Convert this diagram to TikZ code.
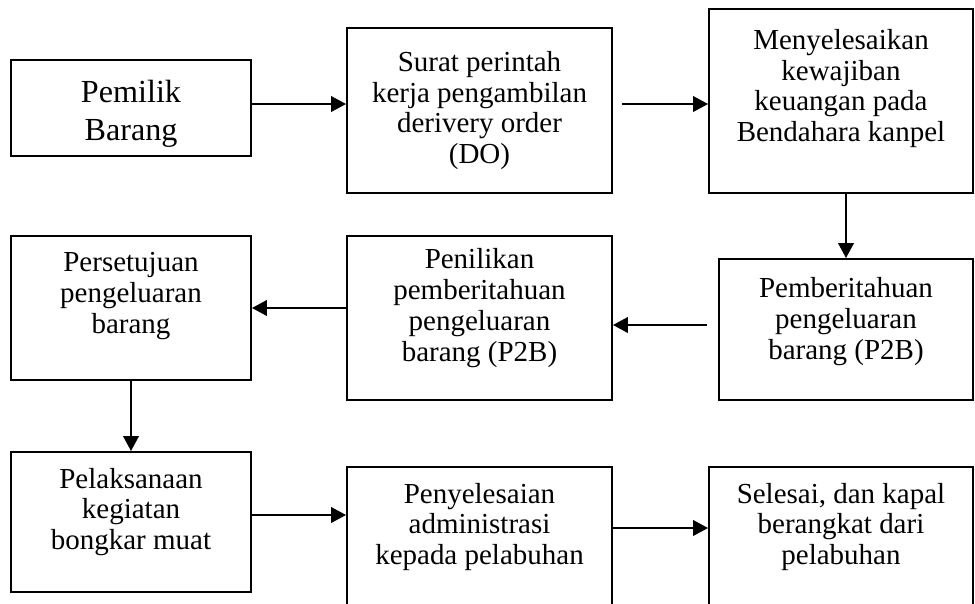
\documentclass[tikz,border=0pt]{standalone}
\usepackage{fontspec}
\setmainfont{Liberation Serif}
\usetikzlibrary{arrows.meta}
\tikzset{
  box/.style={draw, line width=1.1pt, inner sep=0pt},
  txt/.style={align=center, inner sep=0pt, font=\fontsize{16.5}{17.5}\selectfont},
  bigtxt/.style={align=center, inner sep=0pt, font=\fontsize{18.3}{21.6}\selectfont},
  arr/.style={line width=1.3pt, -{Triangle[length=0.3cm, width=0.31cm]}}
}
\begin{document}
\begin{tikzpicture}[x=0.02cm, y=-0.02cm]
\clip (0,0) rectangle (975,603);
\begin{scope}
\node[box, minimum width=4.8cm, minimum height=1.92cm] (b1) at (131,108) {};
\node[box, minimum width=5.3cm, minimum height=3.3cm] (b2) at (479.5,110.5) {};
\node[box, minimum width=5.28cm, minimum height=3.68cm] (b3) at (841,101) {};
\node[box, minimum width=5.08cm, minimum height=2.82cm] (b4) at (846,329.5) {};
\node[box, minimum width=5.3cm, minimum height=3.28cm] (b5) at (479.5,318) {};
\node[box, minimum width=4.8cm, minimum height=2.88cm] (b6) at (131,308) {};
\node[box, minimum width=4.8cm, minimum height=2.8cm] (b7) at (131,522) {};
\node[box, minimum width=5.3cm, minimum height=4.26cm] (b8) at (479.5,573.5) {};
\node[box, minimum width=5.28cm, minimum height=4.26cm] (b9) at (841,573.5) {};
\node[bigtxt] (t1) at ([yshift=-0.12cm]b1.center) {Pemilik\\Barang};
\node[txt] (t2) at (b2.center) {Surat perintah\\kerja pengambilan\\derivery order\\(DO)};
\node[txt] (t3) at ([yshift=0.25cm]b3.center) {Menyelesaikan\\kewajiban\\keuangan pada\\Bendahara kanpel};
\node[txt] (t4) at ([yshift=0.16cm]b4.center) {Pemberitahuan\\pengeluaran\\barang (P2B)};
\node[txt] (t5) at ([yshift=0.2cm]b5.center) {Penilikan\\pemberitahuan\\pengeluaran\\barang (P2B)};
\node[txt] (t6) at ([yshift=0.24cm]b6.center) {Persetujuan\\pengeluaran\\barang};
\node[txt] (t7) at ([yshift=0.2cm]b7.center) {Pelaksanaan\\kegiatan\\bongkar muat};
\node[txt] (t8) at (b8.north |- 0,527) {Penyelesaian\\administrasi\\kepada pelabuhan};
\node[txt] (t9) at (b9.north |- 0,527) {Selesai, dan kapal\\berangkat dari\\pelabuhan};
\draw[arr] (b1.east |- 0,104) -- (b2.west |- 0,104);
\draw[arr] ([xshift=0.18cm]b2.east |- 0,104) -- (b3.west |- 0,104);
\draw[arr] (b4.north |- b3.south) -- (b4.north);
\draw[arr] ([xshift=-0.22cm]b4.west |- 0,325) -- (b5.east |- 0,325);
\draw[arr] (b5.west |- 0,308) -- (b6.east |- 0,308);
\draw[arr] (b6.south) -- (b7.north);
\draw[arr] (b7.east |- 0,515) -- (b8.west |- 0,515);
\draw[arr] (b8.east |- 0,528) -- (b9.west |- 0,528);
\end{scope}
\end{tikzpicture}
\end{document}
